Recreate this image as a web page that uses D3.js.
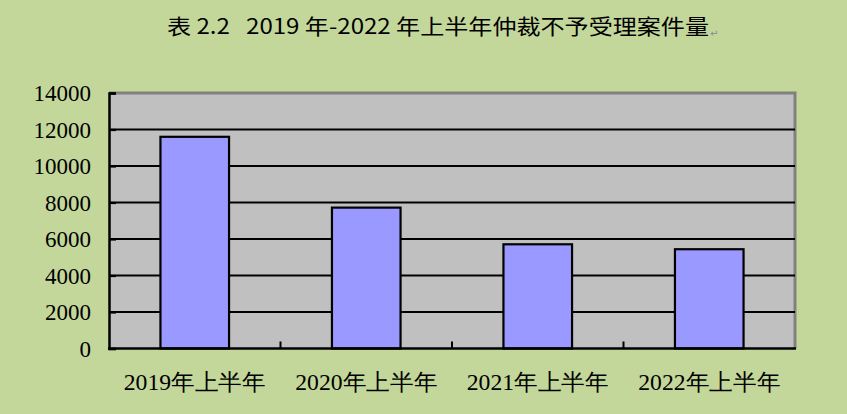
<!DOCTYPE html>
<html><head><meta charset="utf-8">
<script src="https://cdn.jsdelivr.net/npm/d3@7"></script>
<style>
html,body{margin:0;padding:0;background:#c4d79b;}
svg{display:block;}
</style></head>
<body>
<svg id="chart" width="847" height="414"></svg>
<script>
const categories = ["2019年上半年","2020年上半年","2021年上半年","2022年上半年"];
const values = [11600, 7720, 5710, 5440];
const yTicks = [0,2000,4000,6000,8000,10000,12000,14000];
const titleText = "表 2.2\u00a0\u00a0\u00a02019 年-2022 年上半年仲裁不予受理案件量";

const SERIF = "\"Liberation Serif\"";
const svg = d3.select("#chart");
const W = 847, H = 414;
const m = {left:109, right:795, top:93, bottom:348.5};

svg.append("rect").attr("width",W).attr("height",H).attr("fill","#c4d79b");

const x = d3.scaleBand().domain(categories).range([m.left, m.right]).paddingInner(0).paddingOuter(0);
const y = d3.scaleLinear().domain([0,14000]).range([m.bottom, m.top]);

svg.append("rect").attr("x",m.left).attr("y",m.top).attr("width",m.right-m.left).attr("height",m.bottom-m.top)
  .attr("fill","#c0c0c0");
svg.append("path").attr("d",`M${m.left},${m.top}H${m.right}V${m.bottom}`)
  .attr("fill","none").attr("stroke","#808080").attr("stroke-width",3);

svg.append("g").selectAll("line").data(yTicks.filter(d=>d>0 && d<14000)).join("line")
  .attr("x1",m.left).attr("x2",m.right).attr("y1",d=>y(d)).attr("y2",d=>y(d))
  .attr("stroke","#000").attr("stroke-width",2.2);

const bw = x.bandwidth()*0.4;
svg.append("g").selectAll("rect").data(values).join("rect")
  .attr("x",(d,i)=>x(categories[i])+x.bandwidth()/2-bw/2)
  .attr("y",d=>y(d))
  .attr("width",bw)
  .attr("height",d=>y(0)-y(d))
  .attr("fill","#9999ff").attr("stroke","#000").attr("stroke-width",2.2);

const yAxis = d3.axisLeft(y).tickValues(yTicks).tickSize(-7).tickPadding(18).tickFormat(d3.format("d"));
const gy = svg.append("g").attr("transform",`translate(${m.left},0)`).call(yAxis);
gy.attr("font-family",null).attr("font-size",null);
gy.select(".domain").attr("stroke","#000").attr("stroke-width",2.5);
gy.selectAll(".tick line").attr("stroke","#000").attr("stroke-width",2.2);
gy.selectAll(".tick text")
  .style("font-family",SERIF)
  .style("font-size","23px").attr("fill","#000").attr("dy","0.34em");

const boundaries = categories.slice(1).map(c=>x(c));
const gx = svg.append("g");
gx.append("line").attr("x1",m.left-1).attr("x2",m.right+1).attr("y1",m.bottom).attr("y2",m.bottom)
  .attr("stroke","#000").attr("stroke-width",2.5);
gx.selectAll("line.tk").data(boundaries).join("line").attr("class","tk")
  .attr("x1",d=>d).attr("x2",d=>d).attr("y1",m.bottom).attr("y2",m.bottom-7)
  .attr("stroke","#000").attr("stroke-width",2);
gx.selectAll("text").data(categories).join("text")
  .attr("x",d=>x(d)+x.bandwidth()/2).attr("y",390)
  .attr("text-anchor","middle")
  .style("font-family",SERIF)
  .style("font-size","23px").attr("fill","#000")
  .attr("textLength",142).attr("lengthAdjust","spacingAndGlyphs")
  .text(d=>d);

svg.append("text").attr("x",167).attr("y",34)
  .style("font-family","\"Noto Sans CJK SC\"").style("font-size","21px").attr("fill","#000")
  .attr("textLength",542).attr("lengthAdjust","spacingAndGlyphs")
  .text(titleText);
svg.append("text").attr("x",710).attr("y",37)
  .style("font-family","\"DejaVu Sans\"").style("font-size","10px").attr("fill","#8090a0")
  .text("↵");
</script>
</body></html>
